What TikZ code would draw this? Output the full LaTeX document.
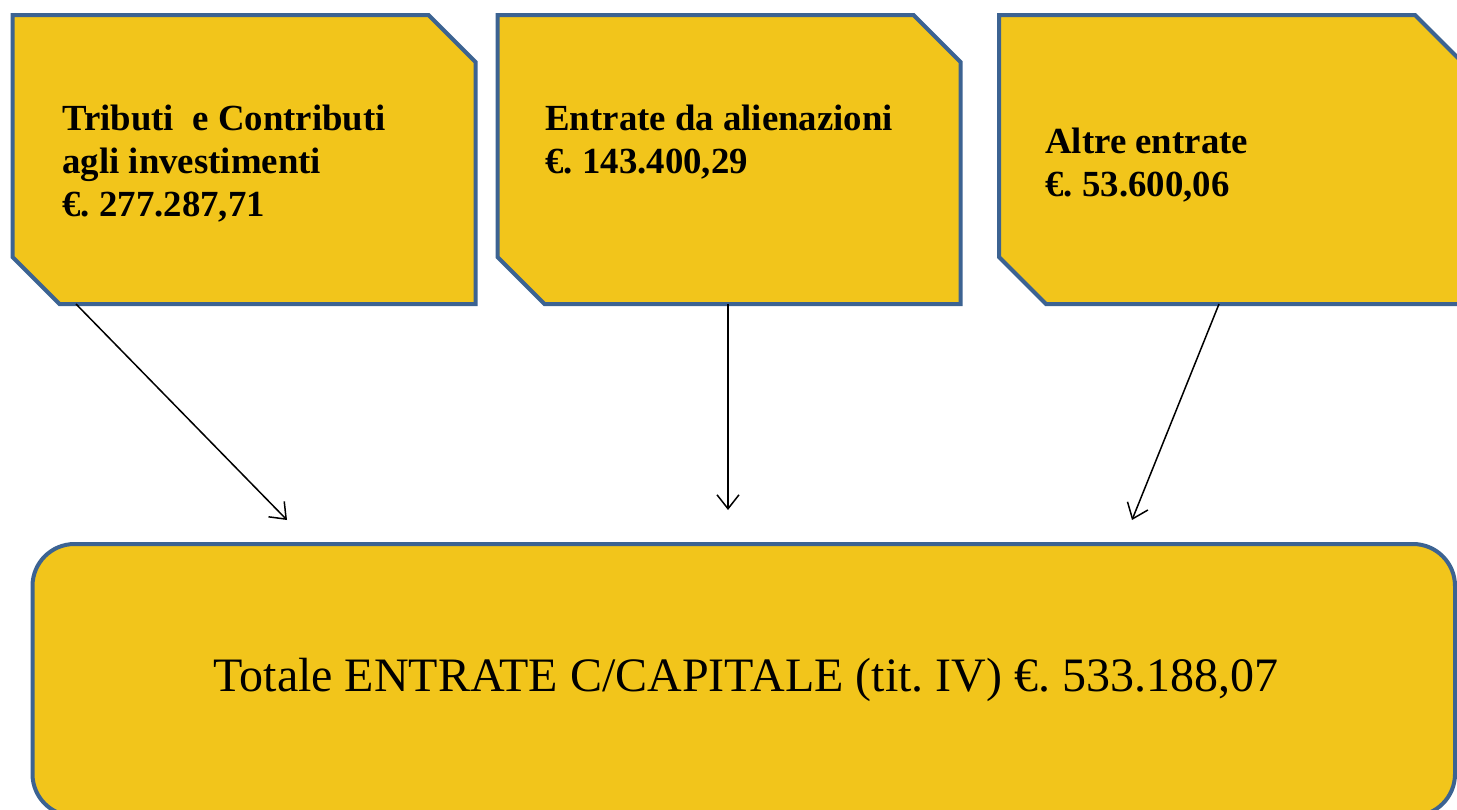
\documentclass[tikz,border=0pt]{standalone}
\usepackage{fontspec}
\setmainfont{Liberation Serif}
\usetikzlibrary{calc,arrows.meta}
\definecolor{boxfill}{RGB}{242,197,27}
\definecolor{boxline}{RGB}{60,99,146}
\tikzset{
  srcframe/.style={rectangle, minimum width=231.5pt, minimum height=144.5pt,
    inner sep=0pt, outer sep=0pt},
  srcline/.style={draw=boxline, fill=boxfill, line width=2pt, line join=miter},
  totbox/.style={rectangle, rounded corners=21pt, draw=boxline, fill=boxfill, line width=2pt,
    minimum width=711.25pt, minimum height=136pt, inner sep=0pt, outer sep=0pt},
  srctext/.style={anchor=north west, inner sep=0pt, align=left,
    font=\fontsize{18.4pt}{21.5pt}\selectfont\bfseries},
  tottext/.style={inner sep=0pt, font=\fontsize{24pt}{28pt}\selectfont},
  conn/.style={line width=0.75pt, -{Straight Barb[length=7pt,width=11pt]}}
}
\newcommand{\chambox}[1]{%
  \draw[srcline] (#1.north west) -- ($(#1.north east)+(-23.5pt,0)$)
    -- ($(#1.north east)+(0,-23.5pt)$) -- (#1.south east)
    -- ($(#1.south west)+(23.5pt,0)$) -- ($(#1.south west)+(0,23.5pt)$) -- cycle;}
\begin{document}
\frenchspacing
\begin{tikzpicture}[x=0.5pt,y=-0.5pt]
\useasboundingbox (0,0) rectangle (1457,809);
\node[srcframe] (b1) at (244,159.5) {};
\node[srcframe] (b2) at (729,159.5) {};
\node[srcframe] (b3) at (1230.5,159.5) {};
\chambox{b1}
\chambox{b2}
\chambox{b3}
\node[totbox] (tot) at (743.75,680) {};
\node[srctext] (t1) at (62,105) {Tributi\ \ e Contributi\\agli investimenti\\€. 277.287,71};
\node[srctext] (t2) at (545,105) {Entrate da alienazioni\\€. 143.400,29};
\node[srctext] (t3) at (1045,128) {Altre entrate\\€. 53.600,06};
\node[tottext] (tt) at (746,680) {Totale ENTRATE C/CAPITALE (tit. IV) €. 533.188,07};
\coordinate (s1) at (76,304);
\coordinate (e1) at (287,520);
\coordinate (s2) at (728,304);
\coordinate (e2) at (728,510);
\coordinate (s3) at (1219,304);
\coordinate (e3) at (1132,520);
\draw[conn] (s1) -- (e1);
\draw[conn] (s2) -- (e2);
\draw[conn] (s3) -- (e3);
\end{tikzpicture}
\end{document}
